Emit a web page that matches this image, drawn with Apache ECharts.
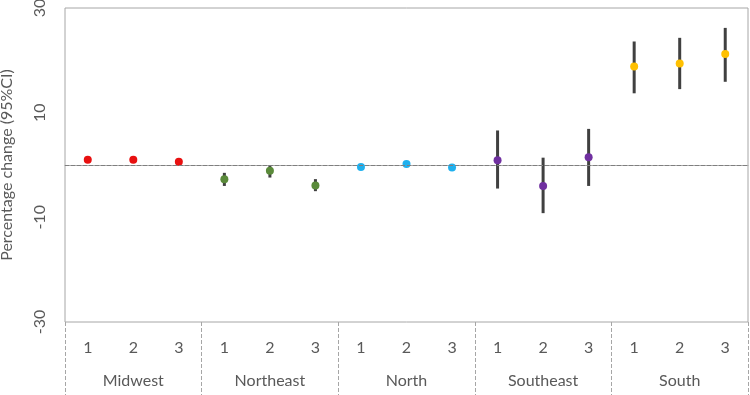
<!DOCTYPE html>
<html>
<head>
<meta charset="utf-8">
<script src="https://cdn.jsdelivr.net/npm/echarts@6/dist/echarts.min.js"></script>
<style>
  html, body { margin: 0; padding: 0; background: #fff; }
  #chart { width: 750px; height: 395px; }
</style>
</head>
<body>
<div id="chart"></div>
<script>
const regions = ["Midwest", "Northeast", "North", "Southeast", "South"];
const periods = ["1", "2", "3"];
const regionColors = ["#e81010", "#5a8a3a", "#1fb0ee", "#7030a0", "#ffc000"];

// point estimate and 95% CI, three periods per region in region order
const estimates = [1.0, 1.0, 0.6, -2.7, -1.1, -3.9, -0.4, 0.2, -0.5, 0.9, -4.0, 1.5, 18.8, 19.4, 21.2];
const lower = [0.7, 0.7, 0.3, -4.0, -2.4, -5.0, -0.6, 0.0, -0.7, -4.5, -9.2, -4.0, 13.7, 14.5, 15.9];
const upper = [1.3, 1.3, 0.9, -1.5, -0.1, -2.7, -0.2, 0.4, -0.3, 6.6, 1.4, 6.9, 23.6, 24.3, 26.2];

const categories = [];
regions.forEach(() => periods.forEach(p => categories.push(p)));

const chart = echarts.init(document.getElementById("chart"));
const textColor = "#595959";
const font = "Lato, 'Open Sans', sans-serif";

chart.setOption({
  animation: false,
  grid: {
    left: 65, right: 2, top: 8, bottom: 73,
    outerBoundsMode: "none",
    show: true, borderColor: "#a6a6a6", borderWidth: 1
  },
  xAxis: [
    {
      type: "category",
      data: categories,
      position: "bottom",
      axisLine: { lineStyle: { color: "#a6a6a6" } },
      axisTick: { show: false },
      axisLabel: { color: textColor, fontSize: 16, fontFamily: font, margin: 18 }
    },
    {
      type: "category",
      data: regions,
      position: "bottom",
      axisLine: { show: false },
      axisTick: { show: true, length: 75, lineStyle: { color: "#a6a6a6", type: "dashed" } },
      axisLabel: { color: textColor, fontSize: 16, fontFamily: font, margin: 51 }
    }
  ],
  yAxis: {
    type: "value",
    min: -30,
    max: 30,
    interval: 20,
    name: "Percentage change (95%CI)",
    nameLocation: "middle",
    nameRotate: 90,
    nameGap: 50,
    nameTextStyle: { color: textColor, fontSize: 16, fontFamily: font },
    axisLine: { show: false },
    axisTick: { show: false },
    splitLine: { show: false },
    axisLabel: { rotate: 90, color: textColor, fontSize: 16, fontFamily: font, margin: 17 }
  },
  series: [
    {
      type: "custom",
      xAxisIndex: 0,
      data: categories.map((c, i) => [i, lower[i], upper[i]]),
      renderItem: (params, api) => {
        const lo = api.coord([api.value(0), api.value(1)]);
        const hi = api.coord([api.value(0), api.value(2)]);
        return {
          type: "line",
          shape: { x1: lo[0], y1: lo[1], x2: hi[0], y2: hi[1] },
          style: { stroke: "#404040", lineWidth: 3 }
        };
      },
      z: 2
    },
    {
      type: "scatter",
      xAxisIndex: 0,
      symbolSize: 8,
      data: estimates.map((v, i) => ({
        value: [i, v],
        itemStyle: { color: regionColors[Math.floor(i / 3)], opacity: 1, borderWidth: 0 }
      })),
      markLine: {
        silent: true,
        symbol: "none",
        label: { show: false },
        lineStyle: { color: "#7f7f7f", type: "dashed", width: 1 },
        data: [{ yAxis: 0 }]
      },
      z: 3
    }
  ]
});
</script>
</body>
</html>
